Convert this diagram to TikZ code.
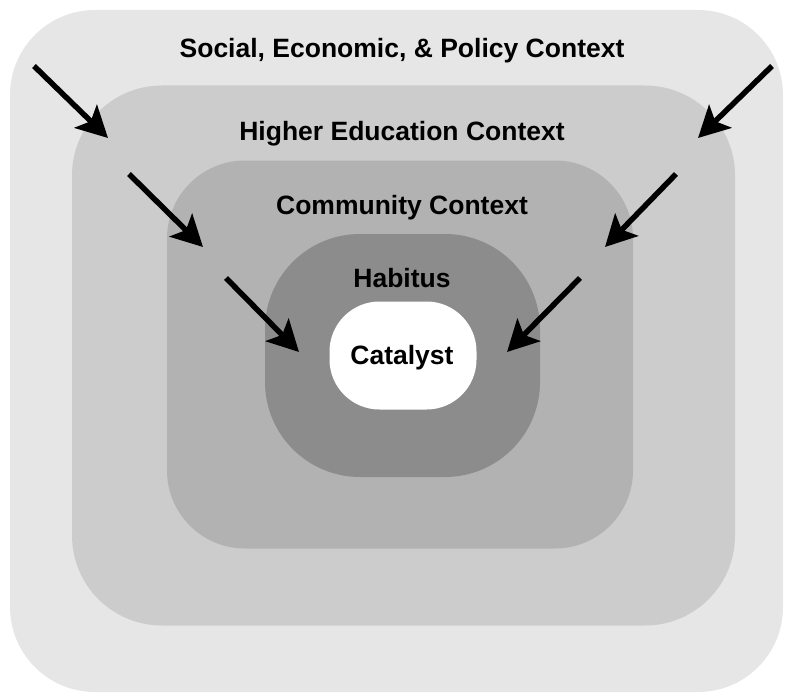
\documentclass[tikz,border=0pt]{standalone}
\usepackage{fontspec}
\setmainfont{Liberation Sans}
\usetikzlibrary{arrows.meta}
\definecolor{cOuter}{gray}{0.902}
\definecolor{cHigher}{gray}{0.80}
\definecolor{cComm}{gray}{0.70}
\definecolor{cHab}{gray}{0.55}
\tikzset{
  lbl/.style={font=\fontsize{26.5}{30}\selectfont\bfseries, inner sep=0pt, anchor=center},
  arr/.style={line width=5.5pt, -{Stealth[length=31pt, width=32pt, inset=7pt]}},
}
\begin{document}
\begin{tikzpicture}[x=1pt,y=-1pt]
\useasboundingbox (0,0) rectangle (791,698);
\node[fill=cOuter, rounded corners=85pt, inner sep=0pt, minimum width=773pt, minimum height=682pt] (outer) at (396.5,351) {};
\node[fill=cHigher, rounded corners=90pt, inner sep=0pt, minimum width=663pt, minimum height=540pt] (higher) at (403.5,355.5) {};
\node[fill=cComm, rounded corners=78pt, inner sep=0pt, minimum width=466pt, minimum height=388pt] (comm) at (400,354.5) {};
\node[fill=cHab, rounded corners=95pt, inner sep=0pt, minimum width=275pt, minimum height=243pt] (hab) at (402.5,355.5) {};
\node[fill=white, rounded corners=50pt, inner sep=0pt, minimum width=147pt, minimum height=108pt] (cat) at (403,355.5) {};

\node[lbl] (t1) at (402,51) {Social, Economic, \& Policy Context};
\node[lbl] (t2) at (402,134) {Higher Education Context};
\node[lbl] (t3) at (402,208) {Community Context};
\node[lbl] (t4) at (402,278) {Habitus};
\node[lbl] (t5) at (402,358) {Catalyst};

\coordinate (a1s) at (34,66);   \coordinate (a1e) at (108,138);
\coordinate (a2s) at (772,66);  \coordinate (a2e) at (698,138);
\coordinate (a3s) at (129,174); \coordinate (a3e) at (203,247);
\coordinate (a4s) at (676,174); \coordinate (a4e) at (605,247);
\coordinate (a5s) at (226,278); \coordinate (a5e) at (299,352);
\coordinate (a6s) at (580,278); \coordinate (a6e) at (507,352);
\draw[arr] (a1s) -- (a1e);
\draw[arr] (a2s) -- (a2e);
\draw[arr] (a3s) -- (a3e);
\draw[arr] (a4s) -- (a4e);
\draw[arr] (a5s) -- (a5e);
\draw[arr] (a6s) -- (a6e);
\end{tikzpicture}
\end{document}
